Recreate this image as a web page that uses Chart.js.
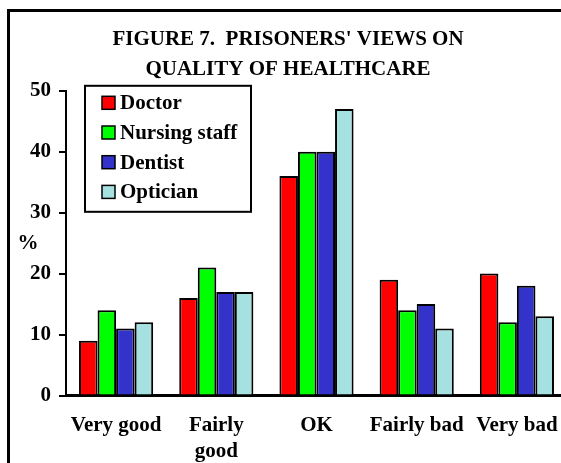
<!DOCTYPE html>
<html>
<head>
<meta charset="utf-8">
<script src="https://cdn.jsdelivr.net/npm/chart.js@4"></script>
<style>
  html, body { margin: 0; padding: 0; background: #fff; overflow: hidden; }
</style>
</head>
<body>
<canvas id="healthChart" width="575" height="500"></canvas>
<script>
// data (percent)
const categories = ['Very good', ['Fairly', 'good'], 'OK', 'Fairly bad', 'Very bad'];
const doctor = [9, 16, 36, 19, 20];
const nursingStaff = [14, 21, 40, 14, 12];
const dentist = [11, 17, 40, 15, 18];
const optician = [12, 17, 47, 11, 13];
const seriesNames = ['Doctor', 'Nursing staff', 'Dentist', 'Optician'];
const seriesColors = ['#ff0000', '#00ff00', '#3333cc', '#a6e1e2'];
const yMin = 0, yMax = 50, yStep = 10;

const FONT = "'Liberation Serif', 'Times New Roman', serif";

// white page + outer frame that runs off the right/bottom edge
const framePlugin = {
    id: 'frame',
    beforeDraw(chart) {
        const ctx = chart.ctx;
        ctx.save();
        ctx.fillStyle = '#fff';
        ctx.fillRect(0, 0, chart.width, chart.height);
        ctx.strokeStyle = '#000';
        ctx.lineWidth = 3;
        ctx.strokeRect(8.5, 10.5, chart.width + 20, chart.height + 20);
        ctx.restore();
    }
};

// boxed legend sitting inside the plot, plus the "%" axis label
const boxLegendPlugin = {
    id: 'boxLegend',
    afterDraw(chart) {
        const ctx = chart.ctx;
        const area = chart.chartArea;
        const x0 = area.left + 19, y0 = area.top - 5;
        const w = 166, h = 126;
        ctx.save();
        ctx.fillStyle = '#fff';
        ctx.fillRect(x0, y0, w, h);
        ctx.strokeStyle = '#000';
        ctx.lineWidth = 2;
        ctx.strokeRect(x0, y0, w, h);

        ctx.font = 'bold 21px ' + FONT;
        ctx.textBaseline = 'middle';
        chart.data.datasets.forEach((ds, i) => {
            const cy = y0 + 17 + i * 29.7;
            ctx.fillStyle = ds.backgroundColor;
            ctx.fillRect(x0 + 17, cy - 6.5, 13, 13);
            ctx.lineWidth = 1.5;
            ctx.strokeRect(x0 + 17, cy - 6.5, 13, 13);
            ctx.fillStyle = '#000';
            ctx.fillText(ds.label, x0 + 35, cy + 1);
        });

        ctx.textAlign = 'center';
        ctx.fillText('%', 28, chart.scales.y.getPixelForValue(25));
        ctx.restore();
    }
};

const ctx = document.getElementById('healthChart').getContext('2d');
const seriesData = [doctor, nursingStaff, dentist, optician];

new Chart(ctx, {
    type: 'bar',
    data: {
        labels: categories,
        datasets: seriesData.map((values, i) => ({
            label: seriesNames[i],
            data: values,
            backgroundColor: seriesColors[i],
            borderColor: '#000',
            borderWidth: 2,
            barPercentage: 1,
            categoryPercentage: 0.74
        }))
    },
    options: {
        responsive: false,
        animation: false,
        devicePixelRatio: 1,
        layout: { padding: { left: 9, right: 8, top: 0, bottom: 26 } },
        plugins: {
            legend: { display: false },
            tooltip: { enabled: false },
            title: {
                display: true,
                text: ["FIGURE 7.  PRISONERS' VIEWS ON", 'QUALITY OF HEALTHCARE'],
                color: '#000',
                font: { family: FONT, size: 21, weight: 'bold', lineHeight: 1.4 },
                padding: { top: 25, bottom: 7 }
            }
        },
        scales: {
            x: {
                grid: { display: false },
                border: { display: true, color: '#000', width: 3 },
                ticks: {
                    color: '#000',
                    font: { family: FONT, size: 21, weight: 'bold', lineHeight: 1.25 },
                    padding: 9,
                    autoSkip: false,
                    maxRotation: 0
                }
            },
            y: {
                min: yMin,
                max: yMax,
                // leave room on the left for the "%" label
                afterFit(scale) { scale.width += 13; },
                grid: { display: true, drawOnChartArea: false, drawTicks: true, tickLength: 7, color: '#000', lineWidth: 2 },
                border: { display: true, color: '#000', width: 2 },
                ticks: {
                    stepSize: yStep,
                    color: '#000',
                    font: { family: FONT, size: 21, weight: 'bold' },
                    padding: 8
                }
            }
        }
    },
    plugins: [framePlugin, boxLegendPlugin]
});
</script>
</body>
</html>
